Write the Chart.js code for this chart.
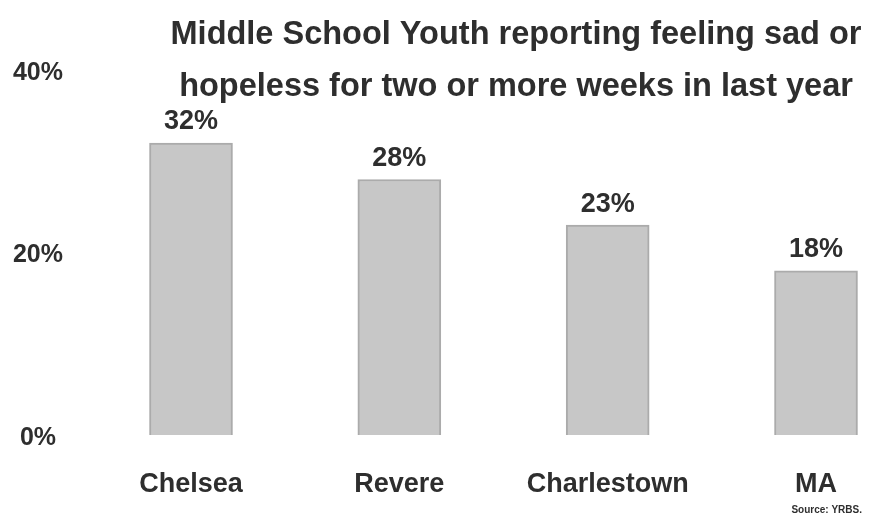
<!DOCTYPE html>
<html>
<head>
<meta charset="utf-8">
<script src="https://cdn.jsdelivr.net/npm/chart.js@4/dist/chart.umd.min.js"></script>
<style>
  html, body { margin: 0; padding: 0; background: #fff; }
  #wrap { width: 870px; height: 516px; position: relative; }
</style>
</head>
<body>
<div id="wrap"><canvas id="grafico"></canvas></div>
<script>
// YRBS middle school results
const lugares = ["Chelsea", "Revere", "Charlestown", "MA"];
const valores = [32, 28, 23, 18];
const yTicks = [0, 20, 40];
const titulo = ["Middle School Youth reporting feeling sad or", "hopeless for two or more weeks in last year"];
const fonte = "Source: YRBS.";

const FAMILIA = "'Liberation Sans', Arial, sans-serif";
const corTexto = "#2e2e2e";

// titulo, rotulos de valor e fonte desenhados direto no canvas
const textosExtras = {
  id: "textosExtras",
  afterDatasetsDraw(chart) {
    const ctx = chart.ctx;
    const meta = chart.getDatasetMeta(0);
    ctx.save();
    ctx.fillStyle = corTexto;
    ctx.textAlign = "center";
    ctx.textBaseline = "middle";
    ctx.font = "bold 27px " + FAMILIA;
    meta.data.forEach((barra, i) => {
      ctx.fillText(valores[i] + "%", barra.x, barra.y - 21);
    });
    ctx.restore();
  },
  afterDraw(chart) {
    const ctx = chart.ctx;
    ctx.save();
    ctx.fillStyle = corTexto;
    ctx.textAlign = "center";
    ctx.textBaseline = "alphabetic";
    ctx.font = "bold 32.5px " + FAMILIA;
    ctx.fillText(titulo[0], 516, 44);
    ctx.fillText(titulo[1], 516, 96);
    ctx.textAlign = "right";
    ctx.font = "bold 10px " + FAMILIA;
    ctx.fillText(fonte, 862, 513);
    ctx.restore();
  }
};

const ctx = document.getElementById("grafico").getContext("2d");
const chart = new Chart(ctx, {
  type: "bar",
  data: {
    labels: lugares,
    datasets: [{
      data: valores,
      backgroundColor: "#c7c7c7",
      borderColor: "#ababab",
      borderWidth: 2,
      barThickness: 83,
      clip: false
    }]
  },
  options: {
    responsive: true,
    maintainAspectRatio: false,
    animation: false,
    layout: { padding: { top: 70, right: 54, bottom: 15, left: 0 } },
    scales: {
      x: {
        offset: false,
        afterFit: (scale) => {
          scale.height = 66;
          scale.paddingLeft = 0;
          scale.paddingRight = 0;
        },
        grid: { display: false, drawTicks: false },
        border: { display: false },
        ticks: {
          color: corTexto,
          font: { family: FAMILIA, size: 27, weight: "bold" },
          padding: 33,
          maxRotation: 0,
          autoSkip: false
        }
      },
      y: {
        min: 0,
        max: 40,
        // eixo largo com os rotulos encostados na margem esquerda
        afterFit: (scale) => {
          scale.width = 191;
          scale.paddingTop = 0;
          scale.paddingBottom = 0;
        },
        afterBuildTicks: (scale) => { scale.ticks = yTicks.map(v => ({ value: v })); },
        grid: { display: false, drawTicks: false },
        border: { display: false },
        ticks: {
          color: corTexto,
          font: { family: FAMILIA, size: 25, weight: "bold" },
          crossAlign: "center",
          padding: 128,
          labelOffset: 3,
          callback: (v) => v + "%"
        }
      }
    },
    plugins: {
      legend: { display: false },
      tooltip: { enabled: false },
      title: { display: false }
    }
  },
  plugins: [textosExtras]
});
</script>
</body>
</html>
